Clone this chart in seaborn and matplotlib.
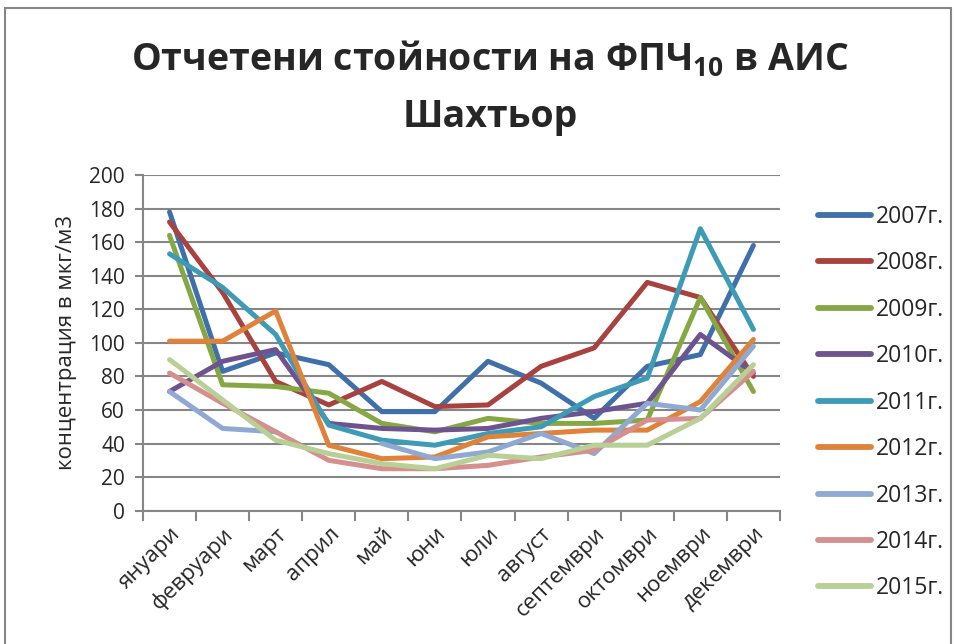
import numpy as np
import pandas as pd
import matplotlib
matplotlib.use("Agg")
import matplotlib.pyplot as plt
from matplotlib.patches import Rectangle
import seaborn as sns

months = ['януари', 'февруари', 'март', 'април', 'май', 'юни', 'юли',
          'август', 'септември', 'октомври', 'ноември', 'декември']
years = ['2007г.', '2008г.', '2009г.', '2010г.', '2011г.', '2012г.',
         '2013г.', '2014г.', '2015г.']

v2007 = [178, 83, 94, 87, 59, 59, 89, 76, 55, 86, 93, 158]
v2008 = [172, 130, 77, 63, 77, 62, 63, 86, 97, 136, 127, 80]
v2009 = [164, 75, 74, 70, 52, 47, 55, 52, 52, 54, 127, 71]
v2010 = [71, 89, 96, 52, 49, 48, 49, 55, 59, 64, 105, 82]
v2011 = [153, 133, 105, 51, 42, 39, 46, 50, 68, 79, 168, 108]
v2012 = [101, 101, 119, 39, 31, 32, 44, 46, 48, 48, 65, 102]
v2013 = [71, 49, 47, np.nan, 40, 31, 35, 46, 34, 64, 60, 98]
v2014 = [82, 64, 47, 30, 25, 25, 27, 32, 36, 54, 55, 83]
v2015 = [90, 66, 42, 34, 28, 25, 33, 31, 39, 39, 55, 87]
series = [v2007, v2008, v2009, v2010, v2011, v2012, v2013, v2014, v2015]

colors = ['#3F70AA', '#A8423F', '#86A844', '#6E548F', '#3D9BB6',
          '#E0823A', '#8FA9D2', '#D48F8E', '#B8D096']

rows = []
for yr, vals in zip(years, series):
    seg = 0
    for i, v in enumerate(vals):
        if np.isnan(v):
            seg += 1
            continue
        rows.append({'year': yr, 'x': i, 'value': v, 'seg': seg})
df = pd.DataFrame(rows)

sns.set_style('white')
plt.rcParams['font.family'] = ['Open Sans', 'DejaVu Sans']
plt.rcParams['mathtext.fontset'] = 'custom'
plt.rcParams['mathtext.bf'] = 'Open Sans:bold'
plt.rcParams['mathtext.rm'] = 'Open Sans'

fig = plt.figure(figsize=(9.57, 6.44), dpi=100)
ax = fig.add_axes([0.1494, 0.207, 0.6656, 0.5213])

sns.lineplot(data=df, x='x', y='value', hue='year', units='seg',
             estimator=None, palette=dict(zip(years, colors)),
             linewidth=3.6, ax=ax, legend=False)

gray = '#868686'
ax.set_ylim(0, 200)
ax.set_xlim(-0.5, 11.5)
ax.set_yticks(range(0, 201, 20))
ax.yaxis.grid(True, color=gray, linewidth=1.5)
ax.set_axisbelow(True)
ax.set_xticks(np.arange(-0.5, 12, 1))
ax.set_xticklabels([])
ax.set_xticks(np.arange(12), minor=True)
ax.set_xticklabels(months, minor=True, rotation=45, ha='right',
                   rotation_mode='anchor', fontsize=16)
ax.tick_params(axis='x', which='major', length=7, width=1.5, color=gray,
               direction='out', bottom=True)
ax.tick_params(axis='x', which='minor', length=0, pad=9)
ax.tick_params(axis='y', length=6, width=1.5, color=gray, direction='out',
               left=True, labelsize=15, pad=7)
for s in ['top', 'right']:
    ax.spines[s].set_visible(False)
for s in ['left', 'bottom']:
    ax.spines[s].set_color(gray)
    ax.spines[s].set_linewidth(1.5)
ax.set_xlabel('')
ax.set_ylabel('концентрация в мкг/м3', fontsize=16, labelpad=9)

handles = [plt.Line2D([], [], color=c, linewidth=4.2, solid_capstyle='round')
           for c in colors]
fig.legend(handles, years, loc='upper left', bbox_to_anchor=(0.833, 0.714),
           frameon=False, fontsize=16.5, handlelength=2.3, labelspacing=0.98,
           handletextpad=0.25)

fig.text(0.512, 0.908, 'Отчетени стойности на ФПЧ$_\\mathbf{10}$ в АИС',
         ha='center', va='center', fontsize=27, fontweight='bold')
fig.text(0.512, 0.819, 'Шахтьор', ha='center', va='center',
         fontsize=27, fontweight='bold')

fig.patches.append(Rectangle((5 / 957, -0.05), 946 / 957, 1.05 - 8 / 644,
                             transform=fig.transFigure, fill=False,
                             edgecolor=gray, linewidth=1.5))

fig.savefig('out.png', dpi=100)
